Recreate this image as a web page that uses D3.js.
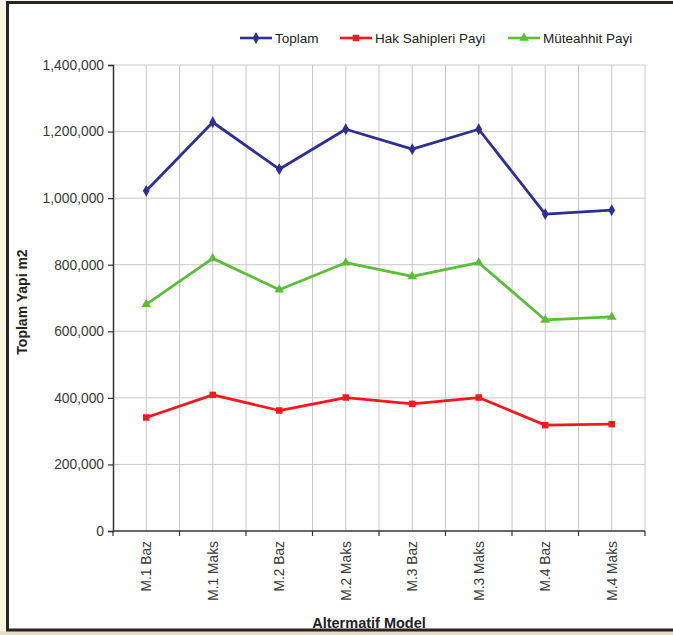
<!DOCTYPE html>
<html>
<head>
<meta charset="utf-8">
<script src="https://cdn.jsdelivr.net/npm/d3@7"></script>
<style>
  html, body { margin: 0; padding: 0; background: #fdf6e8; }
  svg { display: block; font-family: "Liberation Sans", Arial, sans-serif; }
</style>
</head>
<body>
<svg id="chart" width="673" height="635"></svg>
<script>
// Scenario categories
const categories = ["M.1 Baz", "M.1 Maks", "M.2 Baz", "M.2 Maks", "M.3 Baz", "M.3 Maks", "M.4 Baz", "M.4 Maks"];

// Series values (m2)
const toplam = [1022000, 1228000, 1087000, 1207000, 1147000, 1207000, 952000, 964000];
const hakSahipleri = [341000, 409000, 362000, 401000, 382000, 401000, 318000, 321000];
const muteahhit = [681000, 819000, 725000, 806000, 765000, 806000, 634000, 643000];

// Y axis ticks
const yTicks = [0, 200000, 400000, 600000, 800000, 1000000, 1200000, 1400000];

const seriesNames = ["Toplam", "Hak Sahipleri Payi", "Müteahhit Payi"];

const series = [
  { name: seriesNames[0], values: toplam, color: "#2f2f93", symbol: d3.symbolDiamond, size: 40 },
  { name: seriesNames[1], values: hakSahipleri, color: "#f4191e", symbol: d3.symbolSquare, size: 42 },
  { name: seriesNames[2], values: muteahhit, color: "#5dbd3a", symbol: d3.symbolTriangle, size: 40 }
];

const svg = d3.select("#chart");
const W = 673, H = 635;

// Frame: cream page, tan strip at the bottom, white panel with a dark border
svg.append("rect").attr("x", 0).attr("y", 0).attr("width", W).attr("height", H).attr("fill", "#fdf6e8");
svg.append("rect").attr("x", 0).attr("y", 631).attr("width", W).attr("height", 4).attr("fill", "#e9dcc2");
svg.append("rect")
  .attr("x", 7.5).attr("y", 2.5).attr("width", W + 10).attr("height", 627.5)
  .attr("fill", "#ffffff").attr("stroke", "#262626").attr("stroke-width", 3);

const plot = { left: 113, right: 645, top: 65, bottom: 531 };

const x = d3.scaleBand().domain(categories).range([plot.left, plot.right]).padding(0);
const y = d3.scaleLinear().domain([0, 1400000]).range([plot.bottom, plot.top]);

const g = svg.append("g");

// Horizontal gridlines
g.append("g").selectAll("line").data(yTicks.filter(d => d > 0)).join("line")
  .attr("x1", plot.left).attr("x2", plot.right)
  .attr("y1", d => y(d)).attr("y2", d => y(d))
  .attr("stroke", "#c8c8c8").attr("stroke-width", 1);

// Vertical gridlines at category centres and category boundaries
const boundaries = categories.map(c => x(c)).concat([plot.right]).slice(1);
const centres = categories.map(c => x(c) + x.bandwidth() / 2);
g.append("g").selectAll("line").data(boundaries.concat(centres)).join("line")
  .attr("x1", d => d).attr("x2", d => d)
  .attr("y1", plot.top).attr("y2", plot.bottom)
  .attr("stroke", "#c8c8c8").attr("stroke-width", 1);

// Y axis
const yAxis = g.append("g")
  .attr("transform", `translate(${plot.left},0)`)
  .call(d3.axisLeft(y).tickValues(yTicks).tickSize(5).tickPadding(4).tickFormat(d3.format(",")));
yAxis.select(".domain").attr("stroke", "#333").attr("stroke-width", 1.5);
yAxis.selectAll(".tick line").attr("stroke", "#333").attr("stroke-width", 1.2);
yAxis.selectAll(".tick text").attr("fill", "#3a3a3a").attr("font-size", 13.8)
  .attr("font-family", "'Liberation Sans', Arial, sans-serif");

// X axis with ticks at category boundaries
const xAxisG = g.append("g").attr("transform", `translate(0,${plot.bottom})`);
xAxisG.append("line")
  .attr("x1", plot.left).attr("x2", plot.right).attr("y1", 0).attr("y2", 0)
  .attr("stroke", "#333").attr("stroke-width", 1.5);
xAxisG.selectAll("line.tk").data([plot.left].concat(boundaries)).join("line")
  .attr("class", "tk")
  .attr("x1", d => d).attr("x2", d => d).attr("y1", 0).attr("y2", 5)
  .attr("stroke", "#333").attr("stroke-width", 1.2);
xAxisG.selectAll("text").data(categories).join("text")
  .attr("transform", d => `translate(${x(d) + x.bandwidth() / 2 + 5},10) rotate(-90)`)
  .attr("text-anchor", "end")
  .attr("font-size", 13.8).attr("fill", "#3a3a3a")
  .text(d => d);

// Axis titles
svg.append("text")
  .attr("transform", `translate(27,${(plot.top + plot.bottom) / 2 + 4}) rotate(-90)`)
  .attr("text-anchor", "middle").attr("font-size", 14).attr("font-weight", "bold").attr("fill", "#222")
  .text("Toplam Yapi m2");
svg.append("text")
  .attr("x", (plot.left + plot.right) / 2 - 10).attr("y", 628)
  .attr("text-anchor", "middle").attr("font-size", 14.5).attr("font-weight", "bold").attr("fill", "#222")
  .text("Altermatif Model");

// Lines and markers
const line = d3.line().x((d, i) => x(categories[i]) + x.bandwidth() / 2).y(d => y(d));
series.forEach(s => {
  g.append("path").datum(s.values)
    .attr("d", line).attr("fill", "none")
    .attr("stroke", s.color).attr("stroke-width", 2.8).attr("stroke-linejoin", "round");
  g.append("g").selectAll("path").data(s.values).join("path")
    .attr("transform", (d, i) => `translate(${x(categories[i]) + x.bandwidth() / 2},${y(d)})`)
    .attr("d", d3.symbol().type(s.symbol).size(s.size))
    .attr("fill", s.color);
});

// Legend
const legendX = [240, 340, 508];
const legend = svg.append("g");
series.forEach((s, i) => {
  const lg = legend.append("g").attr("transform", `translate(${legendX[i]},38)`);
  lg.append("line").attr("x1", 0).attr("x2", 32).attr("y1", 0).attr("y2", 0)
    .attr("stroke", s.color).attr("stroke-width", 2.6);
  lg.append("path").attr("transform", "translate(16,0)")
    .attr("d", d3.symbol().type(s.symbol).size(s.size)).attr("fill", s.color);
  lg.append("text").attr("x", 35).attr("y", 5)
    .attr("font-size", 13.5).attr("fill", "#222").text(s.name);
});
</script>
</body>
</html>
